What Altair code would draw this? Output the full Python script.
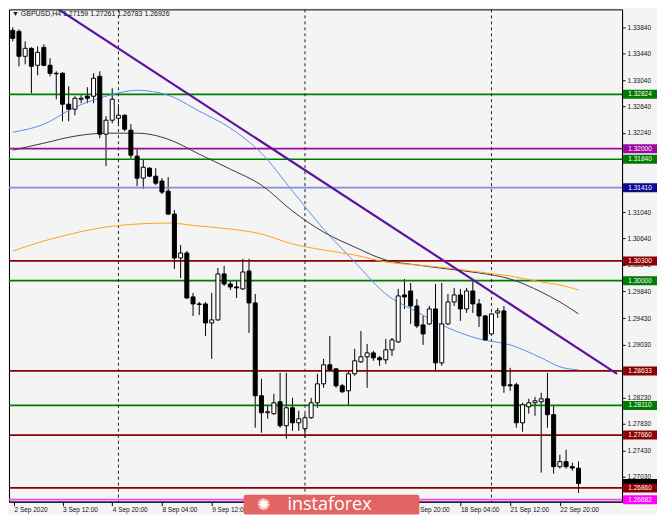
import altair as alt
import pandas as pd
import json

# ---------------- data ----------------
title_text = "\u25bc GBPUSD,H4  1.27159 1.27261 1.26783 1.26926"

opens = [1.33793, 1.33778, 1.33400, 1.33521, 1.33264, 1.33536, 1.33264, 1.33143, 1.33143, 1.32674,
         1.32598, 1.32749, 1.32795, 1.32795, 1.33097, 1.32220, 1.32432, 1.32462, 1.32507, 1.32280,
         1.31887, 1.31554, 1.31705, 1.31584, 1.31509, 1.31357, 1.31009, 1.30344, 1.30419, 1.29754,
         1.29648, 1.29648, 1.29360, 1.29406, 1.30102, 1.29950, 1.29905, 1.29875, 1.30147, 1.29663,
         1.28256, 1.27999, 1.27984, 1.28165, 1.27802, 1.28074, 1.27847, 1.27757, 1.27923, 1.28150,
         1.28437, 1.28725, 1.28664, 1.28407, 1.28331, 1.28589, 1.28770, 1.28846, 1.28906, 1.28831,
         1.28801, 1.28952, 1.29073, 1.29784, 1.29844, 1.29617, 1.29330, 1.29345, 1.29572, 1.28755,
         1.29345, 1.29678, 1.29784, 1.29572, 1.29844, 1.29648, 1.29466, 1.29194, 1.29512, 1.29542,
         1.28422, 1.28422, 1.27847, 1.28089, 1.28150, 1.28165, 1.28210, 1.27969, 1.27182, 1.27258,
         1.27182, 1.27159]
highs = [1.33839, 1.33808, 1.33627, 1.33536, 1.33551, 1.33581, 1.33370, 1.33173, 1.33158, 1.32946,
         1.32795, 1.32810, 1.32931, 1.33143, 1.33173, 1.32492, 1.32916, 1.32674, 1.32522, 1.32371,
         1.31993, 1.31842, 1.31720, 1.31705, 1.31554, 1.31569, 1.31070, 1.30540, 1.30450, 1.29814,
         1.29678, 1.29678, 1.29814, 1.30192, 1.30223, 1.29996, 1.30011, 1.30329, 1.30329, 1.29799,
         1.28513, 1.28120, 1.28286, 1.28604, 1.28604, 1.28225, 1.28029, 1.27984, 1.28225, 1.28589,
         1.28816, 1.29163, 1.28664, 1.28437, 1.28634, 1.28967, 1.29239, 1.29042, 1.28937, 1.28861,
         1.29118, 1.29133, 1.29875, 1.30026, 1.29965, 1.29723, 1.29466, 1.29617, 1.29950, 1.29965,
         1.29799, 1.29890, 1.29875, 1.29890, 1.29996, 1.29723, 1.29481, 1.29512, 1.29587, 1.29617,
         1.28680, 1.28453, 1.28150, 1.28210, 1.28240, 1.28301, 1.28604, 1.28104, 1.27363, 1.27439,
         1.27242, 1.27261]
lows = [1.33627, 1.33248, 1.33279, 1.32840, 1.33112, 1.33248, 1.33097, 1.32749, 1.32416, 1.32416,
        1.32507, 1.32689, 1.32689, 1.32689, 1.32159, 1.31736, 1.32386, 1.32341, 1.32265, 1.31857,
        1.31433, 1.31388, 1.31569, 1.31448, 1.31312, 1.30994, 1.30177, 1.30041, 1.29723, 1.29466,
        1.29481, 1.29163, 1.28816, 1.29391, 1.29920, 1.29859, 1.29738, 1.29859, 1.29209, 1.27772,
        1.27696, 1.27908, 1.27969, 1.27772, 1.27605, 1.27726, 1.27726, 1.27620, 1.27908, 1.28074,
        1.28377, 1.28634, 1.28377, 1.28301, 1.28104, 1.28558, 1.28755, 1.28377, 1.28786, 1.28710,
        1.28740, 1.28861, 1.29057, 1.29572, 1.29345, 1.29285, 1.29027, 1.29330, 1.28619, 1.28710,
        1.29330, 1.29617, 1.29391, 1.29512, 1.29512, 1.29300, 1.29088, 1.29179, 1.29436, 1.28301,
        1.28331, 1.27772, 1.27711, 1.27984, 1.27953, 1.27091, 1.27772, 1.27076, 1.27152, 1.27152,
        1.27121, 1.26783]
closes = [1.33672, 1.33400, 1.33521, 1.33248, 1.33460, 1.33264, 1.33143, 1.33135, 1.32674, 1.32598,
          1.32764, 1.32764, 1.32764, 1.33067, 1.32220, 1.32432, 1.32749, 1.32507, 1.32296, 1.31902,
          1.31554, 1.31720, 1.31584, 1.31478, 1.31342, 1.31009, 1.30344, 1.30419, 1.29738, 1.29648,
          1.29640, 1.29360, 1.29406, 1.30102, 1.29950, 1.29905, 1.29890, 1.30132, 1.29663, 1.28256,
          1.27999, 1.28014, 1.28150, 1.27802, 1.28074, 1.27847, 1.27908, 1.27923, 1.28150, 1.28437,
          1.28725, 1.28649, 1.28407, 1.28316, 1.28589, 1.28786, 1.28846, 1.28906, 1.28831, 1.28801,
          1.28952, 1.29103, 1.29769, 1.29754, 1.29617, 1.29315, 1.29194, 1.29572, 1.28755, 1.29345,
          1.29678, 1.29784, 1.29572, 1.29844, 1.29648, 1.29466, 1.29103, 1.29496, 1.29542, 1.28407,
          1.28407, 1.27847, 1.28120, 1.28150, 1.28180, 1.28210, 1.27969, 1.27182, 1.27258, 1.27182,
          1.27160, 1.26926]

# moving averages, sampled at bar indices
ma_idx = [0, 5, 10, 15, 20, 25, 30, 35, 40, 45, 50, 55, 60, 65, 70, 75, 80, 85, 88, 91]
ma_blue = [1.32250, 1.32371, 1.32628, 1.32795, 1.32885, 1.32810, 1.32568, 1.32311, 1.31932, 1.31357,
           1.30783, 1.30283, 1.29799, 1.29527, 1.29285, 1.29118, 1.29027, 1.28831, 1.28695, 1.28649]
ma_black = [1.31978, 1.32084, 1.32190, 1.32235, 1.32235, 1.32144, 1.31917, 1.31690, 1.31448, 1.31055,
            1.30737, 1.30510, 1.30313, 1.30238, 1.30177, 1.30117, 1.30026, 1.29829, 1.29678, 1.29496]
ma_orange = [1.30450, 1.30601, 1.30722, 1.30813, 1.30858, 1.30873, 1.30828, 1.30783, 1.30707, 1.30556,
             1.30465, 1.30389, 1.30283, 1.30238, 1.30192, 1.30132, 1.30071, 1.29980, 1.29935, 1.29859]

# horizontal levels
lvl_prices = [1.32824, 1.32000, 1.31840, 1.31410, 1.30300, 1.30000, 1.28633, 1.28110, 1.27660, 1.26860, 1.26682]
lvl_line_colors = ["#007a00", "#9b0a9b", "#007a00", "#8a8ad6", "#8b0000", "#007a00",
                   "#8b0000", "#007a00", "#8b0000", "#8b0000", "#ff40ff"]
lvl_box_colors = ["#007a00", "#9b0a9b", "#007a00", "#0a0a8c", "#8b0000", "#007a00",
                  "#8b0000", "#007a00", "#8b0000", "#8b0000", "#ff00ff"]
current_price = 1.26926

# trend line (bar index, price)
trend_idx = [5.4, 97.2]
trend_price = [1.34232, 1.28589]

# vertical dashed separators (bar index)
vline_idx = [17, 47, 77]

# axes (labels hidden under the logo are left blank)
x_tick_pos = [0.2, 8, 16, 24, 32, 40, 48, 56, 64, 72, 80, 88]
x_tick_labels = ["2 Sep 2020", "3 Sep 12:00", "4 Sep 20:00", "8 Sep 04:00", "9 Sep 12:00",
                 "", "", "", "16 Sep 20:00",
                 "18 Sep 04:00", "21 Sep 12:00", "22 Sep 20:00"]
y_ticks = [1.33840, 1.33440, 1.33040, 1.32640, 1.32240, 1.31040, 1.30640,
           1.30240, 1.29840, 1.29430, 1.29030, 1.28230, 1.27830, 1.27430, 1.27030]

# ---------------- chart ----------------
W, H = 614, 493
FONT = "Liberation Sans"
xs = alt.Scale(domain=[0.2, 97.2], nice=False, zero=False)
ys = alt.Scale(domain=[1.26652, 1.34111], nice=False, zero=False)

candles = pd.DataFrame({
    "idx": list(range(len(opens))),
    "open": opens, "high": highs, "low": lows, "close": closes,
})

x_axis = alt.Axis(values=x_tick_pos,
                  labelExpr=json.dumps(x_tick_labels) + "[round(datum.value/8)]",
                  labelAlign="left", labelFontSize=6.5, labelFont=FONT, labelColor="#111",
                  tickColor="#000", tickSize=4, domainColor="#000", grid=False, title=None,
                  labelPadding=1, labelOverlap=False, labelFlush=False)
y_axis = alt.Axis(values=y_ticks, format=".5f", orient="right", labelFontSize=6.5,
                  labelFont=FONT, labelColor="#111", tickColor="#000", tickSize=3,
                  domainColor="#000", grid=False, title=None, labelPadding=2,
                  labelOverlap=False, labelFlush=False)


def X(field):
    return alt.X(field, scale=xs, axis=x_axis, title=None)


def Y(field):
    return alt.Y(field, scale=ys, axis=y_axis, title=None)


wicks = alt.Chart(candles).mark_rule(color="black", strokeWidth=1, clip=True).encode(
    x=X("idx:Q"), y=Y("low:Q"), y2="high:Q",
)
bodies = alt.Chart(candles).mark_bar(size=4, stroke="black", strokeWidth=1, clip=True).encode(
    x=X("idx:Q"), y=Y("open:Q"), y2="close:Q",
    fill=alt.condition("datum.close >= datum.open", alt.value("white"), alt.value("black")),
)

levels = pd.DataFrame({
    "price": lvl_prices,
    "line": lvl_line_colors,
    "box": lvl_box_colors,
    "label": [f"{p:.5f}" for p in lvl_prices],
})
level_lines = alt.Chart(levels).mark_rule(strokeWidth=1.7).encode(
    y=Y("price:Q"),
    color=alt.Color("line:N", scale=None),
)

ma = pd.DataFrame({
    "idx": ma_idx * 3,
    "value": ma_blue + ma_black + ma_orange,
    "series": ["blue"] * len(ma_idx) + ["black"] * len(ma_idx) + ["orange"] * len(ma_idx),
})
ma_lines = alt.Chart(ma).mark_line(strokeWidth=1, interpolate="monotone", clip=True).encode(
    x=X("idx:Q"), y=Y("value:Q"),
    color=alt.Color("series:N", scale=alt.Scale(domain=["blue", "black", "orange"],
                                                 range=["#5a8ef0", "#3a3a3a", "#ffa31a"]),
                    legend=None),
    detail="series:N",
)

trend = pd.DataFrame({"idx": trend_idx, "price": trend_price})
trend_line = alt.Chart(trend).mark_line(color="#5c12a0", strokeWidth=2.2, clip=True).encode(
    x=X("idx:Q"), y=Y("price:Q"),
)

vl = pd.DataFrame({"idx": vline_idx})
vlines = alt.Chart(vl).mark_rule(color="#222", strokeWidth=1, strokeDash=[3, 3]).encode(
    x=X("idx:Q"),
)

cur = pd.DataFrame({"price": [current_price]})
cur_box = alt.Chart(cur).mark_rect(color="black", yOffset=-4.5, y2Offset=4.5).encode(
    x=alt.value(W + 1), x2=alt.value(W + 35),
    y=Y("price:Q"), y2="price:Q",
)

boxes = alt.Chart(levels).mark_rect(yOffset=-4.5, y2Offset=4.5).encode(
    x=alt.value(W + 1), x2=alt.value(W + 35),
    y=Y("price:Q"), y2="price:Q",
    color=alt.Color("box:N", scale=None),
)
box_text = alt.Chart(levels).mark_text(color="white", fontSize=6.5, font=FONT, align="center",
                                       baseline="middle").encode(
    x=alt.value(W + 18), y=Y("price:Q"), text="label:N",
)

ttl = pd.DataFrame({"t": [title_text]})
title_mark = alt.Chart(ttl).mark_text(fontSize=7, font=FONT, color="#111", align="left",
                                      baseline="middle").encode(
    x=alt.value(3), y=alt.value(5), text="t:N",
)

logo = pd.DataFrame({"t": ["instaforex"], "i": ["\u273a"]})
logo_box = alt.Chart(logo).mark_rect(color="#e36464", cornerRadius=2).encode(
    x=alt.value(235), x2=alt.value(411), y=alt.value(H - 7), y2=alt.value(H + 13),
)
logo_text = alt.Chart(logo).mark_text(color="white", fontSize=18, font="Open Sans",
                                      align="center", baseline="middle").encode(
    x=alt.value(321), y=alt.value(H + 3), text="t:N",
)
logo_icon = alt.Chart(logo).mark_text(color="white", fontSize=16, font="DejaVu Sans",
                                      align="center", baseline="middle").encode(
    x=alt.value(255), y=alt.value(H + 3), text="i:N",
)

chart = alt.layer(
    wicks, level_lines, vlines, ma_lines, trend_line, bodies,
    cur_box, boxes, box_text, title_mark, logo_box, logo_text, logo_icon,
).properties(
    width=W, height=H, padding=0, background="#f4f4f4",
).configure_view(
    stroke="#000", strokeWidth=1, fill="#f4f4f4",
)

chart.save("out.html", embed_options={"renderer": "svg", "actions": False})
